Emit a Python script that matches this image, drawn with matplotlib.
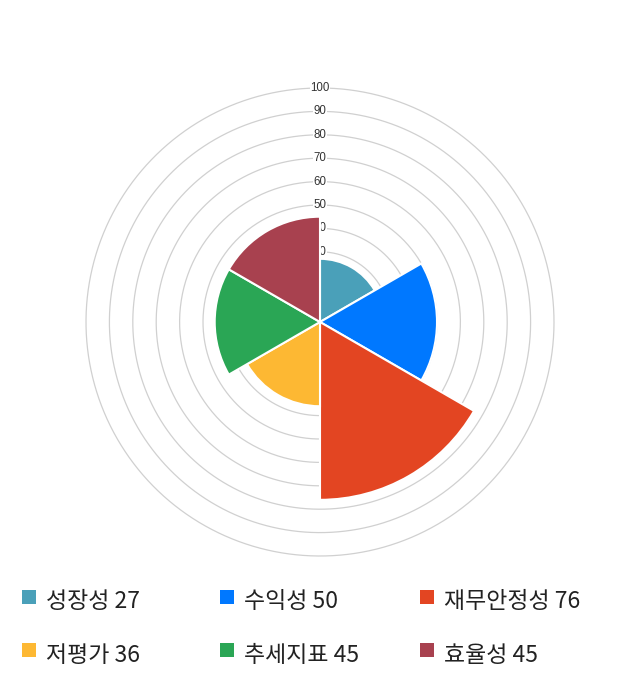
import numpy as np
import matplotlib
matplotlib.use("Agg")
import matplotlib.pyplot as plt
import matplotlib.patches as patches

plt.rcParams['font.family'] = ['Noto Sans CJK KR', 'DejaVu Sans']

# data
labels = ['성장성', '수익성', '재무안정성', '저평가', '추세지표', '효율성']
values = [27, 50, 76, 36, 45, 45]
colors = ['#4aa0b9', '#0078ff', '#e34522', '#fdb833', '#2aa655', '#a8414f']
ticks = [10, 20, 30, 40, 50, 60, 70, 80, 90, 100]

W, H = 640, 700
fig = plt.figure(figsize=(W / 100, H / 100), dpi=100)

# polar area: center (320, 322) px, radius 234 px for 100
cx, cy, R = 320, 322, 234
ax = fig.add_axes([(cx - R) / W, (H - cy - R) / H, 2 * R / W, 2 * R / H], projection='polar')
ax.set_theta_zero_location('N')
ax.set_theta_direction(-1)
ax.set_ylim(0, 100)
ax.set_xticks([])
ax.set_yticks([])
ax.grid(False)
ax.spines['polar'].set_visible(False)

# rings
t = np.linspace(0, 2 * np.pi, 400)
for v in ticks:
    ax.plot(t, np.full_like(t, v), color='#d0d0d0', lw=0.9, zorder=0, clip_on=False)

# tick labels at top
for v in ticks:
    ax.text(0, v, str(v), ha='center', va='center', fontsize=8.3, color='#333333',
            family=['Liberation Sans', 'DejaVu Sans'],
            bbox=dict(facecolor='white', edgecolor='none', pad=0.6), zorder=1)

n = len(values)
width = 2 * np.pi / n
theta = np.arange(n) * width + width / 2
ax.bar(theta, values, width=width, color=colors, edgecolor='white', linewidth=1.5, zorder=2)

# legend
cols = [22, 220, 420]
rows = [590, 643]
for i, (lab, val, c) in enumerate(zip(labels, values, colors)):
    x = cols[i % 3]
    y = rows[i // 3]
    fig.add_artist(patches.Rectangle((x / W, (H - y - 14) / H), 14 / W, 14 / H,
                                     transform=fig.transFigure, facecolor=c, edgecolor='none'))
    fig.text((x + 24) / W, (H - y - 12) / H, f'{lab} {val}', ha='left', va='center',
             fontsize=16.5, color='#222222')

fig.savefig('out.png', dpi=100)
